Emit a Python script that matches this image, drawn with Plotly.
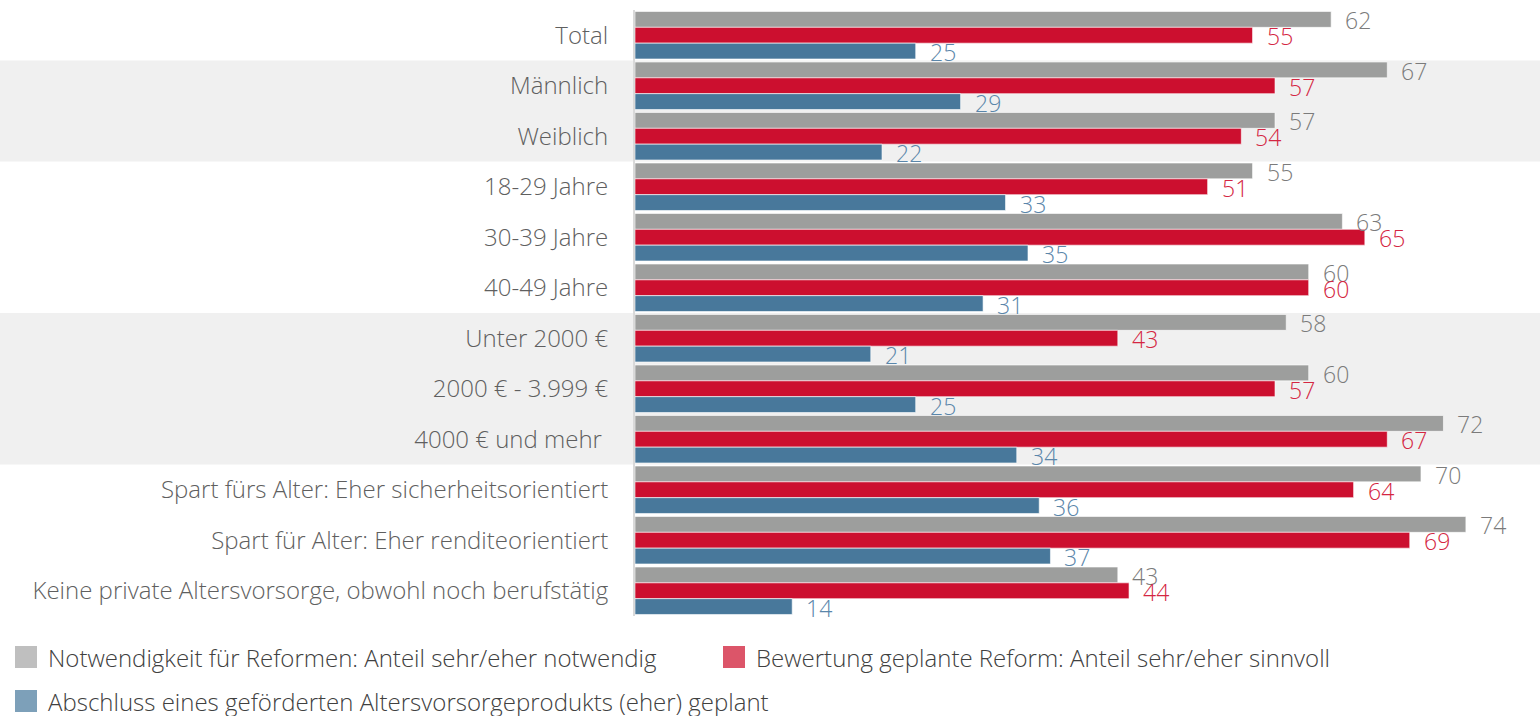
import plotly.graph_objects as go

categories = [
    "Total", "Männlich", "Weiblich", "18-29 Jahre", "30-39 Jahre", "40-49 Jahre",
    "Unter 2000 €", "2000 € - 3.999 €", "4000 € und mehr\u00a0",
    "Spart fürs Alter: Eher sicherheitsorientiert",
    "Spart für Alter: Eher renditeorientiert",
    "Keine private Altersvorsorge, obwohl noch berufstätig",
]
series_names = [
    "Notwendigkeit für Reformen: Anteil sehr/eher notwendig",
    "Bewertung geplante Reform: Anteil sehr/eher sinnvoll",
    "Abschluss eines geförderten Altersvorsorgeprodukts (eher) geplant",
]
notwendig = [62, 67, 57, 55, 63, 60, 58, 60, 72, 70, 74, 43]
sinnvoll = [55, 57, 54, 51, 65, 60, 43, 57, 67, 64, 69, 44]
geplant = [25, 29, 22, 33, 35, 31, 21, 25, 34, 36, 37, 14]
shaded_groups = [(1, 2), (6, 8)]  # category index ranges with grey background

bar_colors = ["#9d9e9d", "#cc0f2f", "#48789b"]
text_colors = ["#7b7b7b", "#d42642", "#5a86aa"]
legend_colors = ["#bfbfbf", "#dc5569", "#7da0b9"]
series = [notwendig, sinnvoll, geplant]

W, H = 1540, 716
ML, MR, MT, MB = 635, 0, 10, 100
PW, PH = W - ML - MR, H - MT - MB
N = len(categories)
BARGAP = 0.06
FONT = "Open Sans"

fig = go.Figure()
for name, vals, col in zip(series_names, series, bar_colors):
    fig.add_trace(go.Bar(
        y=categories, x=vals, name=name, orientation="h",
        marker=dict(color=col, line=dict(color="rgba(255,255,255,0.6)", width=1)),
        showlegend=False, hoverinfo="x+y",
    ))

# value labels
w = (1 - BARGAP) / 3
annotations = []
for k, (vals, tc) in enumerate(zip(series, text_colors)):
    off = (k - 1) * w
    for i, v in enumerate(vals):
        annotations.append(dict(
            x=v, y=i + off, xref="x", yref="y", text=str(v), showarrow=False,
            xanchor="left", yanchor="middle", xshift=12, yshift=-1,
            font=dict(family=FONT, size=23, color=tc, weight=300),
        ))

# shaded bands
shapes = []
for a, b in shaded_groups:
    y_top = 1 - (a) / N
    y_bot = 1 - (b + 1) / N
    shapes.append(dict(
        type="rect", xref="paper", yref="paper", x0=-ML / PW, x1=1 + MR / PW,
        y0=y_bot, y1=y_top, fillcolor="#f0f0f0", line=dict(width=0), layer="below",
    ))

# custom legend
legend_items = [(0, 15, 657), (1, 723, 657), (2, 15, 701)]
for k, px, py in legend_items:
    x0 = (px - ML) / PW
    x1 = (px + 22 - ML) / PW
    yc = (H - MB - py) / PH
    hh = 11 / PH
    shapes.append(dict(
        type="rect", xref="paper", yref="paper", x0=x0, x1=x1, y0=yc - hh, y1=yc + hh,
        fillcolor=legend_colors[k], line=dict(width=0),
    ))
    annotations.append(dict(
        x=(px + 31 - ML) / PW, y=yc, xref="paper", yref="paper", text=series_names[k],
        showarrow=False, xanchor="left", yanchor="middle",
        font=dict(family=FONT, size=24, color="#404040", weight=300),
    ))

fig.update_layout(
    width=W, height=H,
    margin=dict(l=ML, r=MR, t=MT, b=MB),
    barmode="group", bargap=BARGAP, bargroupgap=0,
    plot_bgcolor="rgba(0,0,0,0)", paper_bgcolor="white",
    showlegend=False,
    shapes=shapes, annotations=annotations,
    xaxis=dict(range=[0, 80.6], showgrid=False, zeroline=False, showticklabels=False,
               showline=False, fixedrange=True),
    yaxis=dict(range=[N - 0.5, -0.5], showgrid=False, zeroline=False,
               showline=True, linecolor="#d9d9d9", linewidth=2,
               ticks="", ticklabelstandoff=20,
               tickfont=dict(family=FONT, size=24, color="#5f5f5f", weight=300)),
)

fig.write_html("out.html", config={"displayModeBar": False},
               post_script="document.body.style.margin='0px';")
